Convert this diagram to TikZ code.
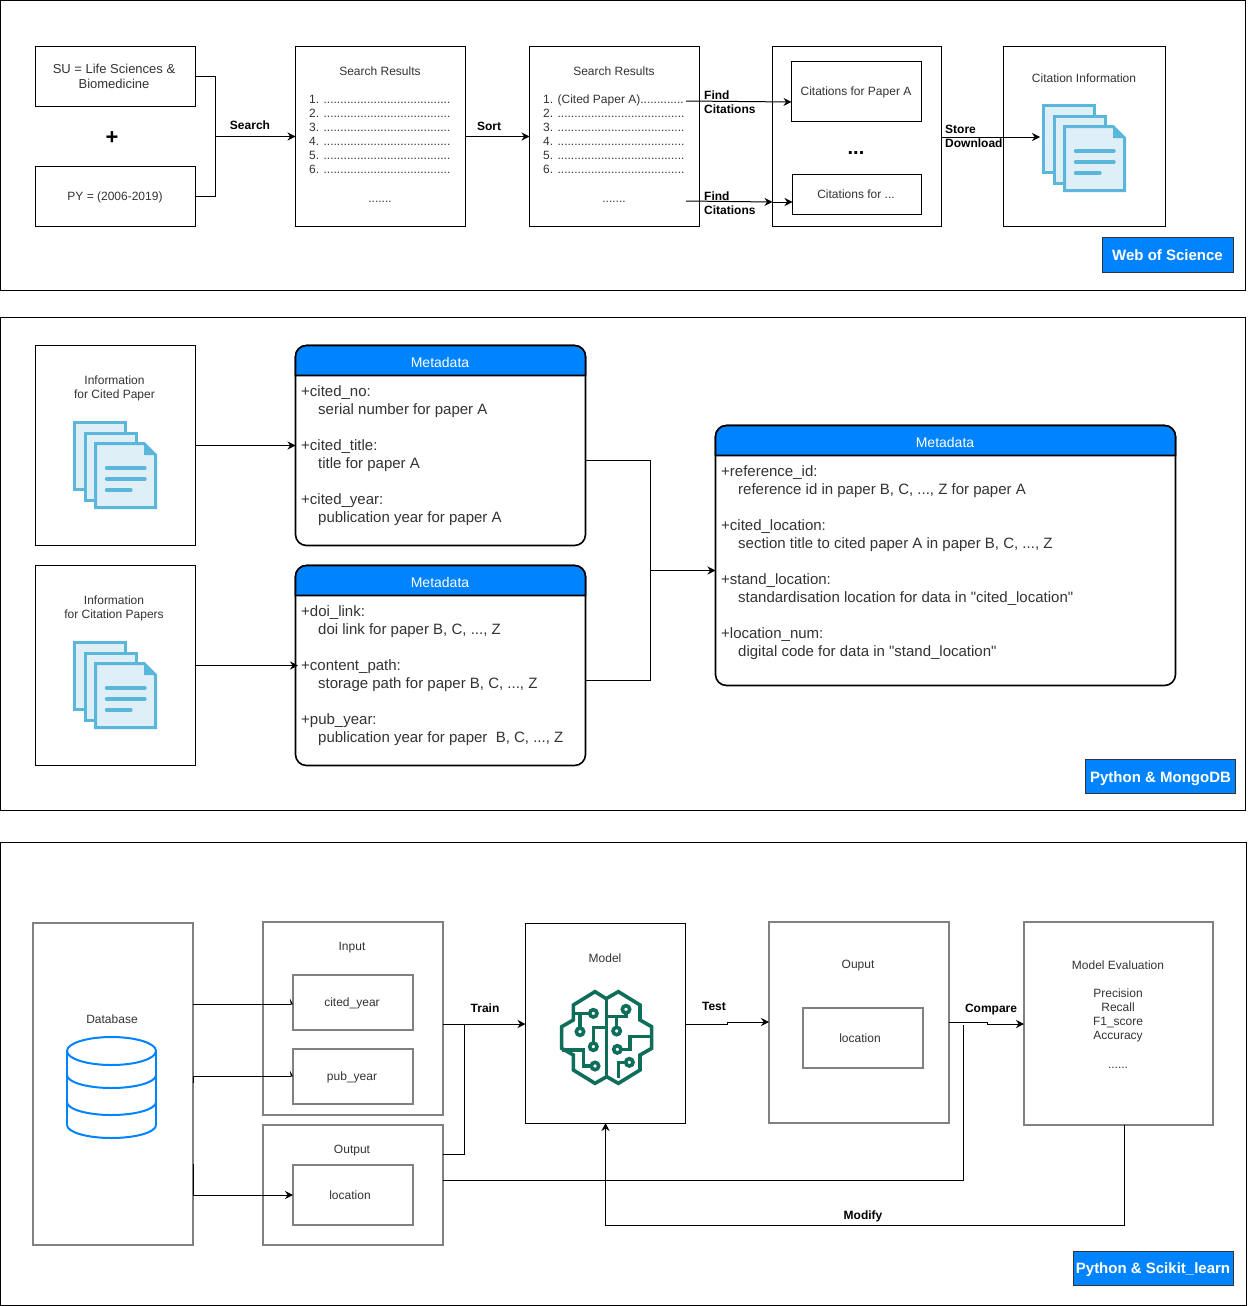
\documentclass[tikz,border=0pt]{standalone}
\usepackage{fontspec}
\defaultfontfeatures[\rmfamily]{}
\setmainfont{Liberation Sans}
\usetikzlibrary{arrows.meta, positioning}
\definecolor{tagblue}{HTML}{0083FF}
\definecolor{sheetline}{HTML}{5AB7DB}
\definecolor{sheetfill}{HTML}{DFEFF7}
\definecolor{brainline}{HTML}{0F6E5A}
\definecolor{bodygrey}{HTML}{333333}
\newcommand{\dotrow}{......................................}
\newcommand{\smalltext}{\fontsize{12}{14}\selectfont}
\newcommand{\bodytext}{\fontsize{15}{18}\selectfont}
\tikzset{
  panel/.style   = {draw, line width=1pt, fill=white},
  box/.style 2 args = {rectangle, draw, line width=1pt, fill=white, inner sep=0pt, outer sep=0pt,
                    minimum width=#1pt, minimum height=#2pt},
  greybox/.style 2 args = {box={#1}{#2}, draw=black!50, line width=1.6pt},
  txt/.style     = {font=\smalltext, text=bodygrey, align=center, inner sep=0pt},
  listtxt/.style = {font=\smalltext, text=bodygrey, align=left, inner sep=0pt, anchor=north west},
  flowtxt/.style = {font=\smalltext\bfseries, text=black, align=left, inner sep=0pt},
  metatxt/.style = {font=\bodytext, text=bodygrey, align=left, inner sep=0pt, anchor=north west},
  metahead/.style = {draw, line width=1.6pt, fill=tagblue},
  metabox/.style 2 args = {box={#1}{#2}, rounded corners=11pt, line width=1.6pt},
  headtxt/.style = {font=\fontsize{14}{16}\selectfont, text=white, inner sep=0pt},
  tag/.style 2 args = {box={#1}{#2}, fill=tagblue, draw=black!80, text height=12.5pt, text depth=1pt,
                    font=\fontsize{15}{18}\selectfont\bfseries, text=white},
  flow/.style    = {-{Stealth[length=8pt,width=8pt]}, line width=1pt},
  line/.style    = {line width=1pt},
  cliptip/.style = {-{Stealth[length=3pt,width=11pt,left]}, line width=1pt},
  docicon/.pic = {
    \foreach \sx/\sy in {0/0, 10.5/10.5} {
      \draw[sheetline, fill=sheetfill, line width=3pt]
        (\sx+1.5,\sy+1.5) rectangle (\sx+52.5,\sy+68.5);
    }
    \draw[sheetline, fill=sheetfill, line width=3pt, line join=miter]
      (22.5,22.5) -- (71,22.5) -- (82.5,34) -- (82.5,86.5) -- (22.5,86.5) -- cycle;
    \fill[sheetline] (71,22.5) -- (82.5,34) -- (71,34) -- cycle;
    \draw[sheetline, line width=3.4pt, line cap=round]
      (33.5,47) -- (72,47) (33.5,58) -- (72,58) (33.5,69) -- (58,69);
  },
  brainicon/.pic = {
    \begin{scope}[scale=1/3, brainline, line width=3.6pt, line join=miter]
      \draw (197,85) -- (165,65) -- (100,105) -- (100,150) -- (65,170) -- (65,235)
        -- (100,255) -- (100,300) -- (165,340) -- (200,320) -- (235,340) -- (300,300)
        -- (300,255) -- (335,235) -- (335,170) -- (300,150) -- (300,105) -- (235,65)
        -- (200,85) -- cycle;
      \draw (200,85) -- (200,320);
      \draw (100,130) -- (148,130) (120,130) -- (120,172);
      \draw (160,218) -- (160,172) -- (200,172);
      \draw (153,288) -- (130,288) -- (130,240) -- (65,240);
      \draw (258,130) -- (258,140) -- (200,140) (230,140) -- (230,170);
      \draw (244,238) -- (270,238) -- (270,200) -- (335,200);
      \draw (256,277) -- (235,277) -- (235,325);
      \foreach \cx/\cy in {160/130, 120/185, 160/230, 165/288, 258/118, 230/183, 232/238, 268/277} {
        \draw (\cx,\cy) circle (11);
      }
    \end{scope}
  },
  dbicon/.pic = {
    \begin{scope}[tagblue, line width=2pt]
      \draw (0,38) arc[start angle=180, end angle=0, x radius=44.5, y radius=13];
      \draw (0,65) arc[start angle=180, end angle=0, x radius=44.5, y radius=13];
      \draw (0,88) arc[start angle=180, end angle=0, x radius=44.5, y radius=13];
      \draw (44.5,14) ellipse[x radius=44.5, y radius=14];
      \draw (0,14) -- (0,88) (89,14) -- (89,88);
    \end{scope}
  }
}
\begin{document}
\begin{tikzpicture}[x=1pt, y=-1pt]
  \useasboundingbox (0,0) rectangle (1248,1306);

  % panels
  \draw[panel] (0.5,0.5) rectangle (1245.5,290.5);
  \draw[panel] (0.5,317.5) rectangle (1245.5,810.5);
  \draw[panel] (0.5,842.5) rectangle (1246,1305);

  % Web of Science
  \node[box={160}{60}]  (su)     at (115.5,76.5)  {};
  \node[box={160}{60}]  (py)     at (115.5,196.5) {};
  \node[box={170}{180}] (res1)   at (380.5,136.5) {};
  \node[box={170}{180}] (res2)   at (614.5,136.5) {};
  \node[box={169}{180}] (cit)    at (857,136.5)   {};
  \node[box={130}{60}]  (citA)   at (856.5,91.5)  {};
  \node[box={129}{40}]  (citB)   at (857,194.5)   {};
  \node[box={162}{180}] (info)   at (1084.5,136.5) {};
  \node[tag={131}{35}]  (tagWos) at (1167.5,254.5) {Web of Science};

  \node[txt, font=\fontsize{13}{15}\selectfont] (suTxt) at (114,76) {SU = Life Sciences \&\\Biomedicine};
  \node[txt] (pyTxt) at (115,197) {PY = (2006-2019)};
  \node[font=\fontsize{22}{22}\selectfont\bfseries, inner sep=0pt] (plus) at (112,138) {+};
  \node[txt] (res1Head) at (380,71) {Search Results};
  \node[listtxt] (res1List) at (309,95) {1. \dotrow\\2. \dotrow\\3. \dotrow\\4. \dotrow\\5. \dotrow\\6. \dotrow};
  \node[txt] (res1More) at (380,202) {.......};
  \node[txt] (res2Head) at (614,71) {Search Results};
  \node[listtxt] (res2List) at (543,95) {1. (Cited Paper A).............\\2. \dotrow\\3. \dotrow\\4. \dotrow\\5. \dotrow\\6. \dotrow};
  \node[txt] (res2More) at (614,202) {.......};
  \node[txt] (citATxt) at (856,92) {Citations for Paper A};
  \node[txt] (citBTxt) at (856,194) {Citations for ...};
  \node[font=\fontsize{20}{20}\selectfont\bfseries, inner sep=0pt] (citDots) at (856,153) {...};
  \node[txt] (infoTxt) at (1084,78) {Citation Information};

  \coordinate (searchJoin) at (215.5,136.5);
  \coordinate (findA) at (686,101);
  \coordinate (citAIn) at (791.5,102);
  \coordinate (findB) at (686,201);
  \coordinate (citEdge) at (772.5,202);
  \coordinate (docEdge) at (1040,137);
  \draw[line] (su.east) -| (searchJoin);
  \draw[line] (py.east) -| (searchJoin);
  \draw[flow] (searchJoin) -- (res1.west);
  \draw[flow] (res1.east) -- (res2.west);
  \draw[flow] (findA) -- (citAIn);
  \draw[flow] (findB) -- (citEdge);
  \draw[flow] (citEdge) -- (citB.west |- citEdge);
  \draw[flow] (cit.east |- docEdge) -- (docEdge);

  \node[flowtxt] (searchTxt) at (250,125) {Search};
  \node[flowtxt] (sortTxt)   at (489,126) {Sort};
  \node[flowtxt, anchor=west] (findATxt) at (704,102) {Find\\Citations};
  \node[flowtxt, anchor=west] (findBTxt) at (704,203) {Find\\Citations};
  \node[flowtxt, anchor=west] (storeTxt) at (945,136) {Store\\Download};
  \pic at (1042,104) {docicon};

  % Python & MongoDB
  \node[box={160}{200}] (paperA) at (115.5,445.5) {};
  \node[box={160}{200}] (paperB) at (115.5,665.5) {};
  \node[tag={150}{34}]  (tagMongo) at (1160.5,776.5) {Python \& MongoDB};
  \node[txt] (paperATxt) at (114.5,388) {Information\\for Cited Paper};
  \node[txt] (paperBTxt) at (114,608) {Information\\for Citation Papers};
  \pic at (73,421) {docicon};
  \pic at (73,641) {docicon};

  \node[metabox={290}{200}] (metaA) at (440.5,445.5) {};
  \node[metabox={290}{200}] (metaB) at (440.5,665.5) {};
  \node[metabox={460}{260}] (metaC) at (945.5,555.5) {};
  \foreach \meta in {metaA, metaB, metaC} {
    \draw[metahead] (\meta.north west) ++(0,30) [rounded corners=11pt] -- (\meta.north west)
      -- (\meta.north east) [sharp corners] -- ++(0,30) -- cycle;
  }
  \node[headtxt] (metaAHead) at (440,362) {Metadata};
  \node[headtxt] (metaBHead) at (440,582) {Metadata};
  \node[headtxt] (metaCHead) at (945,442) {Metadata};

  \node[metatxt] (metaATxt) at (301,385) {+cited\_no:\\\hspace*{17pt}serial number for paper A\\[18pt]+cited\_title:\\\hspace*{17pt}title for paper A\\[18pt]+cited\_year:\\\hspace*{17pt}publication year for paper A};
  \node[metatxt] (metaBTxt) at (301,605) {+doi\_link:\\\hspace*{17pt}doi link for paper B, C, ..., Z\\[18pt]+content\_path:\\\hspace*{17pt}storage path for paper B, C, ..., Z\\[18pt]+pub\_year:\\\hspace*{17pt}publication year for paper\ \ B, C, ..., Z};
  \node[metatxt] (metaCTxt) at (721,465) {+reference\_id:\\\hspace*{17pt}reference id in paper B, C, ..., Z for paper A\\[18pt]+cited\_location:\\\hspace*{17pt}section title to cited paper A in paper B, C, ..., Z\\[18pt]+stand\_location:\\\hspace*{17pt}standardisation location for data in "cited\_location"\\[18pt]+location\_num:\\\hspace*{17pt}digital code for data in "stand\_location"};

  \coordinate (metaJoin) at (650.5,570.5);
  \coordinate (metaAOut) at (585.5,460.5);
  \coordinate (metaBOut) at (585.5,680.5);
  \coordinate (metaBIn) at (298,665.5);
  \draw[flow] (paperA.east) -- (metaA.west);
  \draw[flow] (paperB.east) -- (metaBIn);
  \draw[line] (metaAOut) -| (metaJoin);
  \draw[line] (metaBOut) -| (metaJoin);
  \draw[flow] (metaJoin) -- (metaC.west |- metaJoin);

  % Python & Scikit_learn
  \node[greybox={160}{322}] (db)     at (113,1084)  {};
  \node[greybox={180}{193}] (input)  at (353,1018.5) {};
  \node[greybox={120}{55}]  (citedY) at (353,1002.5) {};
  \node[greybox={120}{55}]  (pubY)   at (353,1076.5) {};
  \node[greybox={180}{120}] (output) at (353,1185)  {};
  \node[greybox={120}{60}]  (locIn)  at (353,1195)  {};
  \node[box={160}{200}]     (model)  at (605.5,1023) {};
  \node[greybox={180}{201}] (ouput)  at (859,1022.5) {};
  \node[greybox={120}{60}]  (locOut) at (863,1038)  {};
  \node[greybox={189}{203}] (evalB)  at (1118.5,1023.5) {};
  \node[tag={160}{34}]      (tagSk)  at (1153,1268) {Python \& Scikit\_learn};

  \node[txt] (dbTxt)     at (112,1019) {Database};
  \node[txt] (inputTxt)  at (352,947.5)  {Input};
  \node[txt] (citedTxt)  at (352,1003) {cited\_year};
  \node[txt] (pubTxt)    at (352,1077) {pub\_year};
  \node[txt] (outputTxt) at (352,1151) {Output};
  \node[txt] (locInTxt)  at (350,1195) {location};
  \node[txt] (modelTxt)  at (605,958)  {Model};
  \node[txt] (ouputTxt)  at (858,966)  {Ouput};
  \node[txt] (locOutTxt) at (860,1038) {location};
  \node[txt, anchor=north] (evalTxt) at (1118,960.5) {Model Evaluation\\[14pt]Precision\\Recall\\F1\_score\\Accuracy\\[15pt]......};
  \pic at (67,1037) {dbicon};
  \pic at (540,970) {brainicon};

  \coordinate (dbA) at (193,1004);
  \coordinate (dbB) at (193,1076);
  \coordinate (dbC) at (193,1164);
  \coordinate (trainJoin) at (464,1024);
  \coordinate (outFork) at (443,1154);
  \coordinate (outLong) at (443,1180);
  \coordinate (cmpEnd) at (963,1025);
  \coordinate (testA) at (727,1024);
  \coordinate (testB) at (727,1022);
  \coordinate (cmpA) at (987,1022);
  \coordinate (cmpB) at (987,1024);
  \coordinate (evalOut) at (1124,1125);
  \coordinate (backLow) at (1124,1225);
  \draw[cliptip] (dbA) -- (citedY.west |- dbA);
  \draw[cliptip] (dbB) -- (pubY.west |- dbB);
  \draw[flow] (dbC) |- (locIn.west);
  \draw[line] (dbB) -- ++(0,7);
  \draw[flow] (input.east |- trainJoin) -- (model.west |- trainJoin);
  \draw[line] (outFork) -| (trainJoin);
  \draw[line] (model.east |- testA) -- (testA) -- (testB);
  \draw[flow] (testB) -- (ouput.west |- testB);
  \draw[line] (ouput.east |- cmpA) -- (cmpA) -- (cmpB);
  \draw[flow] (cmpB) -- (evalB.west |- cmpB);
  \draw[line] (outLong) -| (cmpEnd);
  \draw[flow] (evalOut) -- (backLow) -| (model.south);

  \node[flowtxt] (trainTxt)   at (485,1008) {Train};
  \node[flowtxt] (testTxt)    at (714,1006) {Test};
  \node[flowtxt] (compareTxt) at (991,1010) {Compare};
  \node[flowtxt] (modifyTxt)  at (863,1216) {Modify};
\end{tikzpicture}
\end{document}
